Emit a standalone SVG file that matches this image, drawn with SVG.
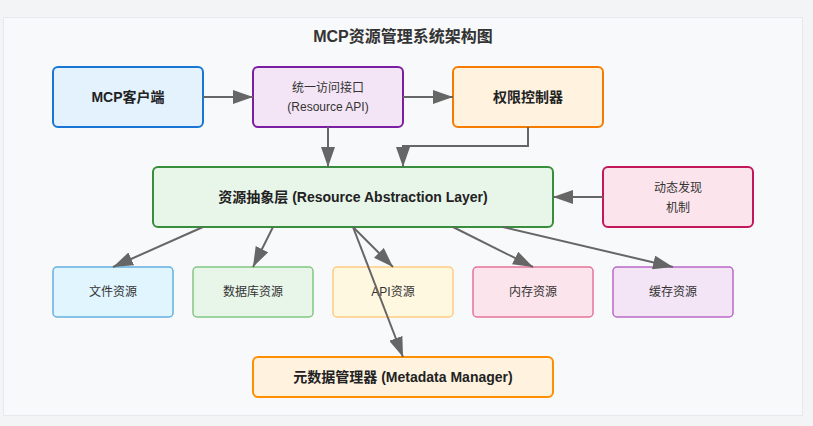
<svg xmlns="http://www.w3.org/2000/svg" width="813" height="426" viewBox="0 0 813 426">
<defs>
<marker id="ah" viewBox="0 0 10 7" refX="10" refY="3.5" markerWidth="10" markerHeight="7" orient="auto">
<polygon points="0 0, 10 3.5, 0 7" fill="#666"/>
</marker>
<style>
text{font-family:"Liberation Sans","Noto Sans CJK SC",sans-serif;fill:#222;text-anchor:middle;dominant-baseline:central}
.b{font-weight:bold;font-size:14px}
.n{font-size:12px;fill:#333}
.main{stroke-width:2}
.res{stroke-width:1.5}
.c{stroke:#666;stroke-width:2;fill:none;marker-end:url(#ah)}
</style>
</defs>
<rect x="0" y="0" width="813" height="426" fill="#f3f4f6"/>
<rect x="3.5" y="17.5" width="799" height="398" fill="#f8f9fa" stroke="#e6e8eb" stroke-width="1"/>
<text x="403" y="36" style="font-size:16px;font-weight:bold;fill:#333">MCP资源管理系统架构图</text>

<g id="client"><rect class="main" x="53" y="67" width="150" height="60" rx="5" fill="#e3f2fd" stroke="#1976d2"/><text class="b" x="128" y="97">MCP客户端</text></g>
<g id="api"><rect class="main" x="253" y="67" width="150" height="60" rx="5" fill="#f3e5f5" stroke="#7b1fa2"/><text class="n" x="328" y="88">统一访问接口</text><text class="n" x="328" y="107">(Resource API)</text></g>
<g id="auth"><rect class="main" x="453" y="67" width="150" height="60" rx="5" fill="#fff3e0" stroke="#f57c00"/><text class="b" x="528" y="97">权限控制器</text></g>
<g id="abstraction"><rect class="main" x="153" y="167" width="400" height="60" rx="5" fill="#e8f5e9" stroke="#388e3c"/><text class="b" x="353" y="197">资源抽象层 (Resource Abstraction Layer)</text></g>
<g id="discovery"><rect class="main" x="603" y="167" width="150" height="60" rx="5" fill="#fce4ec" stroke="#c2185b"/><text class="n" x="678" y="188">动态发现</text><text class="n" x="678" y="208">机制</text></g>
<g id="file"><rect class="res" x="53" y="267" width="120" height="50" rx="4" fill="#e1f5fe" stroke="#64b0e0"/><text class="n" x="113" y="292">文件资源</text></g>
<g id="db"><rect class="res" x="193" y="267" width="120" height="50" rx="4" fill="#e8f5e9" stroke="#81c784"/><text class="n" x="253" y="292">数据库资源</text></g>
<g id="apires"><rect class="res" x="333" y="267" width="120" height="50" rx="4" fill="#fff8e1" stroke="#ffcc80"/><text class="n" x="393" y="292">API资源</text></g>
<g id="mem"><rect class="res" x="473" y="267" width="120" height="50" rx="4" fill="#fce4ec" stroke="#e57399"/><text class="n" x="533" y="292">内存资源</text></g>
<g id="cache"><rect class="res" x="613" y="267" width="120" height="50" rx="4" fill="#f3e5f5" stroke="#ba68c8"/><text class="n" x="673" y="292">缓存资源</text></g>
<g id="metadata"><rect class="main" x="253" y="357" width="300" height="40" rx="5" fill="#fff3e0" stroke="#ff8f00"/><text class="b" x="403" y="377">元数据管理器 (Metadata Manager)</text></g>

<g id="connectors">
<line class="c" x1="203" y1="97" x2="253" y2="97"/>
<line class="c" x1="403" y1="97" x2="453" y2="97"/>
<line class="c" x1="328" y1="127" x2="328" y2="167"/>
<polyline class="c" points="528,127 528,146 403,146 403,167"/>
<line class="c" x1="603" y1="197" x2="553" y2="197"/>
<line class="c" x1="203" y1="227" x2="113" y2="267"/>
<line class="c" x1="273" y1="227" x2="253" y2="267"/>
<line class="c" x1="353" y1="227" x2="393" y2="267"/>
<line class="c" x1="453" y1="227" x2="533" y2="267"/>
<line class="c" x1="503" y1="227" x2="673" y2="267"/>
<line class="c" x1="353" y1="227" x2="403" y2="357"/>
</g>
</svg>
